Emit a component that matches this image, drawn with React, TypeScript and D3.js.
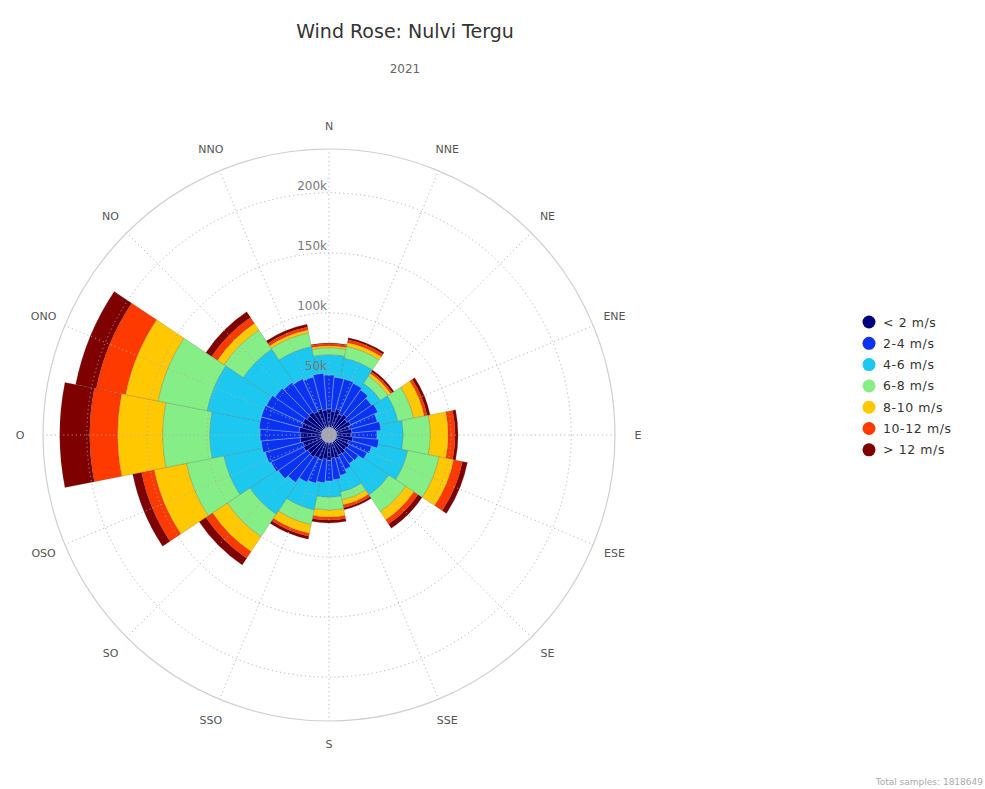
import React from "react";
import * as d3 from "d3";

// ---- data ----
const directions = ["N", "NNE", "NE", "ENE", "E", "ESE", "SE", "SSE", "S", "SSO", "SO", "OSO", "O", "ONO", "NO", "NNO"];
const sectorAngles = [0, 22.5, 45, 67.5, 90, 112.5, 135, 157.5, 180, 202.5, 225, 247.5, 270, 292.5, 315, 337.5];

// fine 10° bins for the low-speed classes
const binAngles = [0, 10, 20, 30, 40, 50, 60, 70, 80, 90, 100, 110, 120, 130, 140, 150, 160, 170,
  180, 190, 200, 210, 220, 230, 240, 250, 260, 270, 280, 290, 300, 310, 320, 330, 340, 350];
const lt2 = [20000, 18300, 20800, 17500, 19200, 16700, 18300, 15800, 17500, 16700, 18300, 15000,
  16700, 15800, 17500, 16700, 18300, 17500, 19200, 18300, 20000, 19200, 20800, 20000,
  21700, 20800, 22500, 21700, 23300, 21700, 22500, 20800, 21700, 20000, 20800, 19200];
const s2to4 = [28300, 28400, 25900, 28300, 25000, 25000, 25000, 24200, 24200, 21600, 21700, 20000,
  16600, 12500, 10000, 13300, 15000, 18300, 17500, 20000, 20000, 22500, 25900, 30000,
  30000, 32500, 32500, 34100, 33400, 35000, 33300, 32500, 30000, 30000, 27500, 30800];

// 16-sector classes (stacked on the low-speed total of each sector)
const s4to6 = [16700, 17100, 7100, 15000, 20000, 30800, 30400, 15000, 13100, 20900, 29200, 35000, 41700, 45500, 31700, 24100];
const s6to8 = [5800, 10000, 7500, 13300, 22500, 26700, 16700, 6700, 10800, 12500, 22500, 31700, 39200, 41700, 19200, 11700];
const s8to10 = [1700, 3300, 2500, 9200, 15000, 12500, 8300, 4200, 5800, 7500, 15000, 27500, 37500, 27500, 6700, 2500];
const s10to12 = [1700, 2500, 1700, 2500, 5800, 7500, 4200, 2500, 2500, 2500, 6700, 10800, 23300, 25000, 5800, 2500];
const gt12 = [800, 1700, 1700, 2500, 2500, 4200, 4200, 1700, 2500, 2500, 6700, 7500, 25000, 17500, 5800, 2500];

const seriesNames = ["< 2 m/s", "2-4 m/s", "4-6 m/s", "6-8 m/s", "8-10 m/s", "10-12 m/s", "> 12 m/s"];
const seriesColors = ["#00007f", "#0a32f0", "#1cc8f0", "#86ee86", "#ffc800", "#ff3a00", "#7f0000"];

const radialTicks = [50000, 100000, 150000, 200000];
const radialTickLabels = ["50k", "100k", "150k", "200k"];
const axisMax = 236500;

const titleText = "Wind Rose: Nulvi Tergu";
const subtitleText = "2021";
const totalText = "Total samples: 1818649";

// ---- layout ----
const W = 985, H = 789;
const cx = 329, cy = 435;
const rScale = d3.scaleLinear().domain([0, axisMax]).range([2, 286]);
const toRad = (deg: number) => (deg * Math.PI) / 180;
const arcGen = d3.arc<any>();
const FONT = "'DejaVu Sans', Verdana, sans-serif";

export default function App() {
  // low-speed totals per 16-sector (mean of the fine bins in that sector)
  const binTotals = binAngles.map((_, i) => lt2[i] + s2to4[i]);
  const base16 = sectorAngles.map((a) => {
    const vals = binAngles
      .map((b, i) => ({ b, v: binTotals[i] }))
      .filter(({ b }) => {
        let d = Math.abs(((b - a + 540) % 360) - 180);
        return d <= 11.25;
      })
      .map((o) => o.v);
    return d3.mean(vals) ?? 0;
  });

  const upper = [s4to6, s6to8, s8to10, s10to12, gt12];
  const stacks = sectorAngles.map((a, i) => {
    let acc = base16[i];
    return upper.map((s, k) => {
      const lo = acc;
      acc += s[i];
      return { k, lo, hi: acc };
    });
  });

  const outerPaths: JSX.Element[] = [];
  // draw from the outermost class inward so each wedge covers the center
  for (let k = upper.length - 1; k >= 0; k--) {
    sectorAngles.forEach((a, i) => {
      const st = stacks[i][k];
      const d = arcGen({
        innerRadius: k === 0 ? 0 : rScale(st.lo),
        outerRadius: rScale(st.hi),
        startAngle: toRad(a - 11.25),
        endAngle: toRad(a + 11.25),
      });
      outerPaths.push(
        <path key={`o${k}-${i}`} d={d || ""} fill={seriesColors[k + 2]} stroke="rgba(70,70,70,0.35)" strokeWidth={0.6} />
      );
    });
  }

  const innerPaths: JSX.Element[] = [];
  binAngles.forEach((a, i) => {
    const d2 = arcGen({
      innerRadius: rScale(lt2[i]),
      outerRadius: rScale(lt2[i] + s2to4[i]),
      startAngle: toRad(a - 5),
      endAngle: toRad(a + 5),
    });
    innerPaths.push(<path key={`b2-${i}`} d={d2 || ""} fill={seriesColors[1]} stroke="rgba(255,255,255,0.45)" strokeWidth={0.6} />);
  });
  binAngles.forEach((a, i) => {
    const d1 = arcGen({
      innerRadius: 0,
      outerRadius: rScale(lt2[i]),
      startAngle: toRad(a - 5),
      endAngle: toRad(a + 5),
    });
    innerPaths.push(<path key={`b1-${i}`} d={d1 || ""} fill={seriesColors[0]} stroke="rgba(255,255,255,0.4)" strokeWidth={0.5} />);
  });

  const outerR = rScale(axisMax);
  const labelR = outerR + 23;

  return (
    <svg width={W} height={H} style={{ position: "absolute", left: 0, top: 0, background: "#fff" }} fontFamily={FONT}>
      <rect x={0} y={0} width={W} height={H} fill="#fff" />
      <text x={405} y={38} textAnchor="middle" fontSize={19} fill="#333">{titleText}</text>
      <text x={405} y={73} textAnchor="middle" fontSize={12} fill="#666">{subtitleText}</text>

      <g transform={`translate(${cx},${cy})`}>
        <circle r={outerR} fill="none" stroke="#d0d0d0" strokeWidth={1.2} />
        {outerPaths}
        {innerPaths}
        <circle r={8} fill="#a4a6b4" />
        {/* grid on top */}
        {radialTicks.map((t) => (
          <circle key={`g${t}`} r={rScale(t)} fill="none" stroke="#a8a8a8" strokeWidth={1} strokeDasharray="1.2,3" opacity={0.85} />
        ))}
        {sectorAngles.map((a) => {
          const x = Math.sin(toRad(a)) * outerR;
          const y = -Math.cos(toRad(a)) * outerR;
          return <line key={`r${a}`} x1={0} y1={0} x2={x} y2={y} stroke="#b0b0b0" strokeWidth={1} strokeDasharray="1.2,3" opacity={0.85} />;
        })}
        {radialTicks.map((t, i) => (
          <text key={`t${t}`} x={-2} y={-rScale(t) - 3} textAnchor="end" fontSize={12} fill="#777">{radialTickLabels[i]}</text>
        ))}
        {directions.map((d, i) => {
          const a = toRad(sectorAngles[i]);
          return (
            <text key={d} x={Math.sin(a) * labelR} y={-Math.cos(a) * labelR} textAnchor="middle" dominantBaseline="central" fontSize={11} fill="#555">
              {d}
            </text>
          );
        })}
      </g>

      <g transform="translate(869,322)">
        {seriesNames.map((n, i) => (
          <g key={n} transform={`translate(0,${i * 21.3})`}>
            <circle r={6.5} fill={seriesColors[i]} />
            <text x={14} y={0} dominantBaseline="central" fontSize={12.5} fill="#333" letterSpacing={0.6}>{n}</text>
          </g>
        ))}
      </g>

      <text x={983} y={785} textAnchor="end" fontSize={9} fill="#aaa">{totalText}</text>
    </svg>
  );
}
